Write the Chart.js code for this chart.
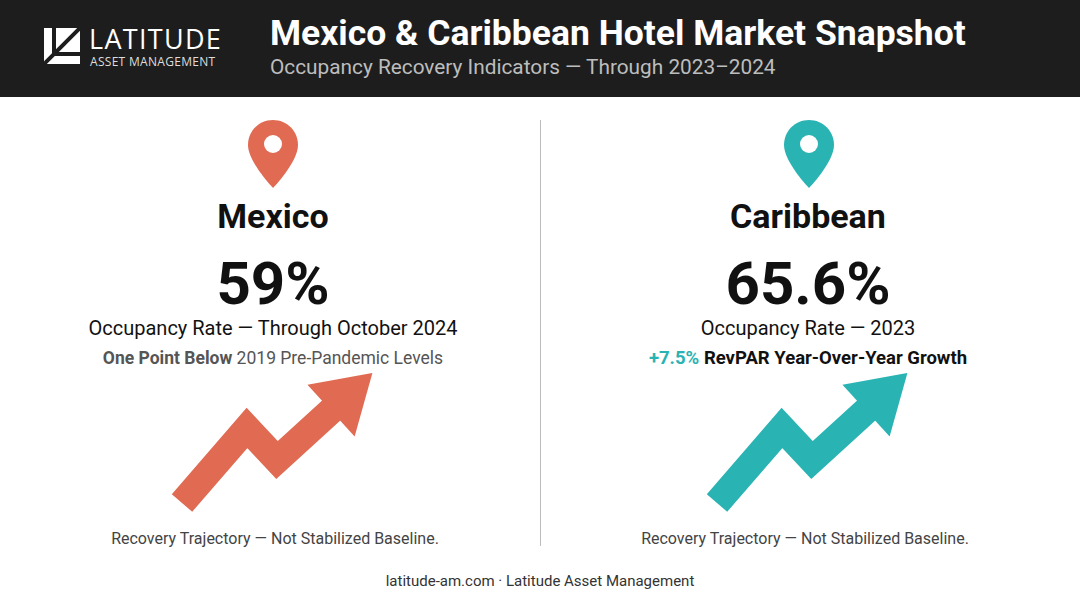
<!DOCTYPE html>
<html><head><meta charset="utf-8">
<script src="https://cdn.jsdelivr.net/npm/chart.js@4.4.0/dist/chart.umd.min.js"></script>
<style>
body{margin:0;width:1080px;height:603px;background:#fff;font-family:Roboto,"Noto Sans",sans-serif;position:relative;overflow:hidden;color:#111}
.hdr{position:absolute;left:0;top:0;width:1080px;height:97px;background:#1d1d1d}
.logo{position:absolute;left:44px;top:28px}
.lt{position:absolute;left:89px;top:24px;color:#fff;font-size:27px;line-height:30px;letter-spacing:1.3px;font-family:"Open Sans",sans-serif}
.la{position:absolute;left:90px;top:55px;color:#ddd;font-size:12px;line-height:13px;letter-spacing:.3px;font-family:"Open Sans",sans-serif}
.title{position:absolute;left:270px;top:12px;color:#fff;font-size:35.5px;font-weight:700}
.sub{position:absolute;left:270px;top:55px;color:#bdbdbd;font-size:20.8px}
.div{position:absolute;left:540px;top:120px;width:1px;height:426px;background:#bbb}
.col{position:absolute;width:540px;text-align:center}
.name{font-size:34px;font-weight:700;top:196px;line-height:40px}
.big{font-size:60px;font-weight:700;top:252px;line-height:64px}
.occ{font-size:20px;top:316px;line-height:24px}
.note{font-size:17.5px;top:347px;line-height:22px}
.foot{font-size:16px;top:529px;color:#444}
.pin{position:absolute;top:120px}
canvas{position:absolute}
</style></head><body>
<div class="hdr">
<svg class="logo" width="36" height="36" viewBox="0 0 36 36"><rect x="0" y="0" width="36" height="36" fill="#fff"/><path d="M0 36 L36 0" stroke="#1d1d1d" stroke-width="4"/><rect x="8" y="0" width="4" height="26" fill="#1d1d1d"/><rect x="8" y="24" width="28" height="4" fill="#1d1d1d"/></svg>
<div class="lt">LATITUDE</div><div class="la">ASSET MANAGEMENT</div>
<div class="title">Mexico &amp; Caribbean Hotel Market Snapshot</div>
<div class="sub">Occupancy Recovery Indicators — Through 2023–2024</div>
</div>
<div class="div"></div>
<svg class="pin" style="left:248px" width="50" height="68" viewBox="0 0 50 68"><path d="M25 0C11 0 0 11 0 25C0 42 25 68 25 68C25 68 50 42 50 25C50 11 39 0 25 0Z" fill="#e06b52"/><circle cx="25" cy="24" r="9" fill="#fff"/></svg>
<svg class="pin" style="left:784px" width="50" height="68" viewBox="0 0 50 68"><path d="M25 0C11 0 0 11 0 25C0 42 25 68 25 68C25 68 50 42 50 25C50 11 39 0 25 0Z" fill="#2ab3b3"/><circle cx="25" cy="24" r="9" fill="#fff"/></svg>
<div class="col name" style="left:3px">Mexico</div>
<div class="col big" style="left:3px">59%</div>
<div class="col occ" style="left:3px">Occupancy Rate — Through October 2024</div>
<div class="col note" style="left:3px;color:#555"><b>One Point Below</b> 2019 Pre-Pandemic Levels</div>
<div class="col foot" style="left:5px">Recovery Trajectory — Not Stabilized Baseline.</div>
<div class="col name" style="left:538px">Caribbean</div>
<div class="col big" style="left:538px">65.6%</div>
<div class="col occ" style="left:538px">Occupancy Rate — 2023</div>
<div class="col note" style="left:538px;font-weight:700;font-size:18.5px"><span style="color:#2ab3b3">+7.5%</span> RevPAR Year-Over-Year Growth</div>
<div class="col foot" style="left:535px">Recovery Trajectory — Not Stabilized Baseline.</div>
<div style="position:absolute;left:0;width:1080px;top:572px;text-align:center;font-size:15px;color:#333">latitude-am.com · Latitude Asset Management</div>
<canvas id="mx" width="240" height="145" style="left:162px;top:373px;width:240px;height:145px"></canvas>
<canvas id="cb" width="240" height="145" style="left:697px;top:373px;width:240px;height:145px"></canvas>
<script>
// trajectory points (arbitrary index units)
const trajX = [20, 85, 115, 172];
const mexicoY = [15, 90, 58, 110];
const caribbeanY = [15, 90, 58, 110];
const mexicoColor = '#e06b52';
const caribbeanColor = '#2ab3b3';

const arrowHead = {
  id: 'arrowHead',
  afterDatasetsDraw(chart) {
    const pts = chart.getDatasetMeta(0).data;
    const a = pts[pts.length - 2], b = pts[pts.length - 1];
    const ang = Math.atan2(b.y - a.y, b.x - a.x);
    const ctx = chart.ctx;
    ctx.save();
    ctx.translate(b.x, b.y);
    ctx.rotate(ang);
    ctx.fillStyle = chart.data.datasets[0].borderColor;
    ctx.beginPath();
    ctx.moveTo(-4, -35);
    ctx.lineTo(52, 0);
    ctx.lineTo(-4, 35);
    ctx.closePath();
    ctx.fill();
    ctx.restore();
  }
};

function makeArrow(id, ys, color) {
  new Chart(document.getElementById(id), {
    type: 'scatter',
    data: { datasets: [{ data: trajX.map((x, i) => ({ x: x, y: ys[i] })), showLine: true,
      borderColor: color, borderWidth: 27, pointRadius: 0, borderJoinStyle: 'miter', borderCapStyle: 'butt' }] },
    options: {
      responsive: false, animation: false,
      layout: { padding: 0 },
      scales: { x: { display: false, min: 0, max: 240 }, y: { display: false, min: 0, max: 145 } },
      plugins: { legend: { display: false }, tooltip: { enabled: false } }
    },
    plugins: [arrowHead]
  });
}
makeArrow('mx', mexicoY, mexicoColor);
makeArrow('cb', caribbeanY, caribbeanColor);
</script>
</body></html>
